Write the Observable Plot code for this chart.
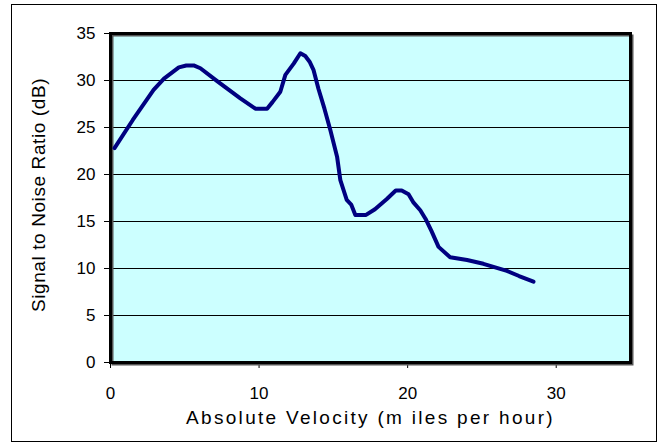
<!DOCTYPE html>
<html><head><meta charset="utf-8">
<script src="https://cdn.jsdelivr.net/npm/d3@7"></script>
<script src="https://cdn.jsdelivr.net/npm/@observablehq/plot@0.6"></script>
<style>
html,body{margin:0;padding:0;background:#fff;}
svg{font-family:"Liberation Sans",Arial,sans-serif;display:block;}
</style></head><body>
<div id="wrap"></div>
<script>
const velocity = [0.27, 1.5, 2.9, 3.6, 4.6, 5.1, 5.6, 6.05, 7.2, 8.74, 9.75, 10.54, 10.9, 11.43, 11.77, 12.33, 12.78, 13.11, 13.4, 13.67, 14.0, 14.4, 14.8, 15.25, 15.47, 15.9, 16.2, 16.48, 17.2, 17.8, 18.6, 19.2, 19.6, 20.06, 20.4, 20.85, 21.2, 21.6, 22.08, 22.86, 24.0, 25.1, 26.68, 27.5, 28.47];
const snr      = [22.8, 25.8, 29.0, 30.2, 31.4, 31.6, 31.6, 31.3, 29.9, 28.1, 27.0, 27.0, 27.7, 28.8, 30.6, 31.8, 32.9, 32.6, 32.0, 31.1, 29.1, 27.0, 24.7, 21.9, 19.4, 17.3, 16.8, 15.7, 15.7, 16.3, 17.4, 18.3, 18.3, 17.9, 17.0, 16.2, 15.3, 14.0, 12.3, 11.2, 10.9, 10.5, 9.75, 9.2, 8.6];
const xTicks = [0, 10, 20, 30];
const yTicks = [0, 5, 10, 15, 20, 25, 30, 35];
const xTitle = "Absolute Velocity (m iles per hour)";
const yTitle = "Signal to Noise Ratio (dB)";

const data = velocity.map((v, i) => ({v, s: snr[i]}));

const chart = Plot.plot({
  width: 658, height: 442,
  marginLeft: 110, marginRight: 28, marginTop: 33, marginBottom: 80,
  style: {fontFamily: '"Liberation Sans", Arial, sans-serif', fontSize: "17px", color: "#000", background: "#fff"},
  x: {domain: [0, 35], ticks: xTicks, tickSize: 6, tickPadding: 18, label: null},
  y: {domain: [0, 35], ticks: yTicks, tickSize: 6, tickPadding: 9, label: null},
  marks: [
    Plot.frame({fill: "#CCFFFF", stroke: null}),
    Plot.ruleY(yTicks.filter(d => d > 0 && d < 35), {stroke: "#000", strokeWidth: 1}),
    Plot.frame({stroke: "#555", strokeWidth: 2, dx: 2, dy: 2}),
    Plot.frame({stroke: "#000", strokeWidth: 3}),
    Plot.line(data, {x: "v", y: "s", stroke: "#000080", strokeWidth: 4, strokeLinejoin: "round", strokeLinecap: "round"}),
    Plot.text([xTitle], {frameAnchor: "bottom", dy: 55, text: d => d, fontSize: 19, lineAnchor: "middle", textAnchor: "middle", fill: "#000"}),
    Plot.text([yTitle], {frameAnchor: "left", dx: -72, dy: -3, rotate: -90, text: d => d, fontSize: 19, lineAnchor: "middle", textAnchor: "middle", fill: "#000"})
  ]
});
document.getElementById("wrap").append(chart);
const svg = d3.select(chart);
svg.selectAll("text").filter(function(){return this.textContent === xTitle;}).style("letter-spacing", "2.3px");
svg.selectAll("text").filter(function(){return this.textContent === yTitle;}).style("letter-spacing", "0.6px");
svg.append("rect").attr("x", 11.5).attr("y", 4.5).attr("width", 645).attr("height", 437)
  .attr("fill", "none").attr("stroke", "#000").attr("stroke-width", 1);
</script>
</body></html>
